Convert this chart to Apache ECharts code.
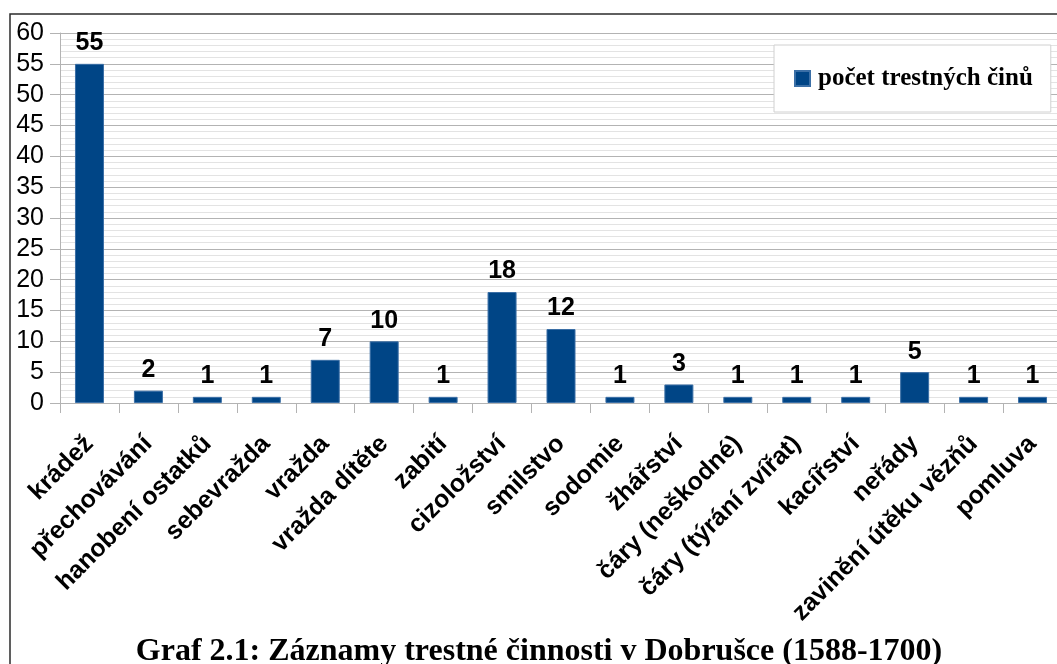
<!DOCTYPE html>
<html>
<head>
<meta charset="utf-8">
<script src="https://cdn.jsdelivr.net/npm/echarts@6/dist/echarts.min.js"></script>
<style>
  html, body { margin: 0; padding: 0; background: #fff; overflow: hidden; }
  #chart { width: 1078px; height: 664px; }
</style>
</head>
<body>
<div id="chart"></div>
<script>
// kategorie trestných činů
const categories = ['krádež', 'přechovávání', 'hanobení ostatků', 'sebevražda', 'vražda', 'vražda dítěte', 'zabití', 'cizoložství', 'smilstvo', 'sodomie', 'žhářství', 'čáry (neškodné)', 'čáry (týrání zvířat)', 'kacířství', 'neřády', 'zavinění útěku vězňů', 'pomluva']
const counts = [55, 2, 1, 1, 7, 10, 1, 18, 12, 1, 3, 1, 1, 1, 5, 1, 1]
const seriesName = 'počet trestných činů'
const titleText = 'Graf 2.1: Záznamy trestné činnosti v Dobrušce (1588-1700)'

const myChart = echarts.init(document.getElementById('chart'))
const option = {
  animation: false,
  title: {
    text: titleText,
    left: 'center',
    top: 636,
    padding: 0,
    textStyle: {
      fontFamily: 'Liberation Serif',
      fontWeight: 'bold',
      fontSize: 32,
      color: '#000'
    }
  },
  graphic: [
    {
      type: 'rect',
      shape: { x: 10, y: 14, width: 1200, height: 800 },
      style: { fill: 'none', stroke: '#2b2b2b', lineWidth: 1.5 },
      silent: true
    }
  ],
  legend: {
    data: [seriesName],
    left: 774,
    top: 45,
    padding: [21, 18, 21, 20],
    backgroundColor: '#fff',
    borderColor: '#d0d0d0',
    borderWidth: 1,
    itemWidth: 15,
    itemHeight: 15,
    icon: 'rect',
    textStyle: {
      fontFamily: 'Liberation Serif',
      fontWeight: 'bold',
      fontSize: 25,
      color: '#000',
      padding: [0, 0, 0, 3]
    }
  },
  grid: {
    left: 60,
    right: 16,
    top: 33,
    bottom: 261
  },
  xAxis: {
    type: 'category',
    data: categories,
    axisLine: { lineStyle: { color: '#b3b3b3' } },
    axisTick: { show: true, length: 10, alignWithLabel: false, lineStyle: { color: '#b3b3b3' } },
    axisLabel: {
      interval: 0,
      rotate: 45,
      margin: 37,
      fontFamily: 'Liberation Sans',
      fontWeight: 'bold',
      fontSize: 25,
      color: '#000'
    }
  },
  yAxis: {
    type: 'value',
    min: 0,
    max: 60,
    interval: 5,
    axisLine: { show: true, lineStyle: { color: '#b3b3b3' } },
    axisTick: { show: true, length: 10, inside: false, lineStyle: { color: '#b3b3b3' } },
    axisLabel: {
      margin: 16,
      fontFamily: 'Liberation Sans',
      fontSize: 25,
      color: '#000'
    },
    splitLine: { lineStyle: { color: '#b3b3b3' } },
    minorTick: { show: false, splitNumber: 5 },
    minorSplitLine: { show: true, lineStyle: { color: '#e3e3e3' } }
  },
  series: [
    {
      name: seriesName,
      type: 'bar',
      data: counts,
      barWidth: 29,
      itemStyle: { color: '#004586', borderColor: '#3b6fa6', borderWidth: 1 },
      label: {
        show: true,
        position: 'top',
        distance: 8,
        fontFamily: 'Liberation Sans',
        fontWeight: 'bold',
        fontSize: 25,
        color: '#000'
      }
    }
  ]
}
myChart.setOption(option)
</script>
</body>
</html>
